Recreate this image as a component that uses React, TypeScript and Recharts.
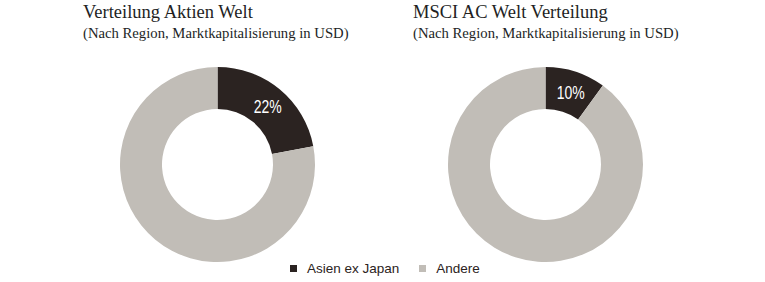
import React from 'react';
import { PieChart, Pie, Cell } from 'recharts';

const categories = ['Asien ex Japan', 'Andere'];
const leftValues = [22, 78];
const rightValues = [10, 90];
const leftTitle = 'Verteilung Aktien Welt';
const rightTitle = 'MSCI AC Welt Verteilung';
const subtitle = '(Nach Region, Marktkapitalisierung in USD)';
const colors = ['#2b2321', '#c1bdb7'];

const leftData = categories.map((name, i) => ({ name, value: leftValues[i] }));
const rightData = categories.map((name, i) => ({ name, value: rightValues[i] }));

const RAD = Math.PI / 180;
const renderLabel = (props: any) => {
  const { cx, cy, midAngle, innerRadius, outerRadius, index, value } = props;
  if (index !== 0) return null;
  const r = (innerRadius + outerRadius) / 2;
  const x = cx + r * Math.cos(-midAngle * RAD);
  const y = cy + r * Math.sin(-midAngle * RAD);
  return (
    <text
      x={x + 1.5}
      y={y + 1}
      fill="#ffffff"
      textAnchor="middle"
      dominantBaseline="central"
      textLength={28}
      lengthAdjust="spacingAndGlyphs"
      style={{ fontFamily: '"Liberation Sans", Arial, sans-serif', fontSize: 19 }}
    >
      {`${value}%`}
    </text>
  );
};

const serif = '"Liberation Serif", "DejaVu Serif", serif';
const sans = '"Liberation Sans", Arial, sans-serif';

export default function App() {
  return (
    <div style={{ position: 'absolute', left: 0, top: 0, width: 765, height: 282, background: '#fff' }}>
      <div style={{ position: 'absolute', left: 83, top: 2, fontFamily: serif, fontSize: 18.5, color: '#231f1f', whiteSpace: 'nowrap' }}>{leftTitle}</div>
      <div style={{ position: 'absolute', left: 83, top: 25, fontFamily: serif, fontSize: 14.7, color: '#231f1f', whiteSpace: 'nowrap' }}>{subtitle}</div>
      <div style={{ position: 'absolute', left: 413, top: 2, fontFamily: serif, fontSize: 18.5, color: '#231f1f', whiteSpace: 'nowrap' }}>{rightTitle}</div>
      <div style={{ position: 'absolute', left: 413, top: 25, fontFamily: serif, fontSize: 14.7, color: '#231f1f', whiteSpace: 'nowrap' }}>{subtitle}</div>
      <div style={{ position: 'absolute', left: 0, top: 0 }}>
        <PieChart width={765} height={282} margin={{ top: 0, right: 0, bottom: 0, left: 0 }}>
          <Pie
            data={leftData}
            dataKey="value"
            nameKey="name"
            cx={217.5}
            cy={164.5}
            innerRadius={55.5}
            outerRadius={97.5}
            startAngle={90}
            endAngle={-270}
            stroke="none"
            label={renderLabel}
            labelLine={false}
            isAnimationActive={false}
          >
            {leftData.map((d, i) => (
              <Cell key={d.name} fill={colors[i]} />
            ))}
          </Pie>
          <Pie
            data={rightData}
            dataKey="value"
            nameKey="name"
            cx={545.5}
            cy={164.5}
            innerRadius={55.5}
            outerRadius={97.5}
            startAngle={90}
            endAngle={-270}
            stroke="none"
            label={renderLabel}
            labelLine={false}
            isAnimationActive={false}
          >
            {rightData.map((d, i) => (
              <Cell key={d.name} fill={colors[i]} />
            ))}
          </Pie>
        </PieChart>
      </div>
      <div style={{ position: 'absolute', left: 290, top: 261, display: 'flex', alignItems: 'center', fontFamily: sans, fontSize: 13.5, color: '#2b2321', whiteSpace: 'nowrap' }}>
        {categories.map((c, i) => (
          <div key={c} style={{ display: 'flex', alignItems: 'center', marginRight: i === 0 ? 20 : 0 }}>
            <span style={{ display: 'inline-block', width: 7, height: 7, background: colors[i], marginRight: 10 }} />
            <span>{c}</span>
          </div>
        ))}
      </div>
    </div>
  );
}
